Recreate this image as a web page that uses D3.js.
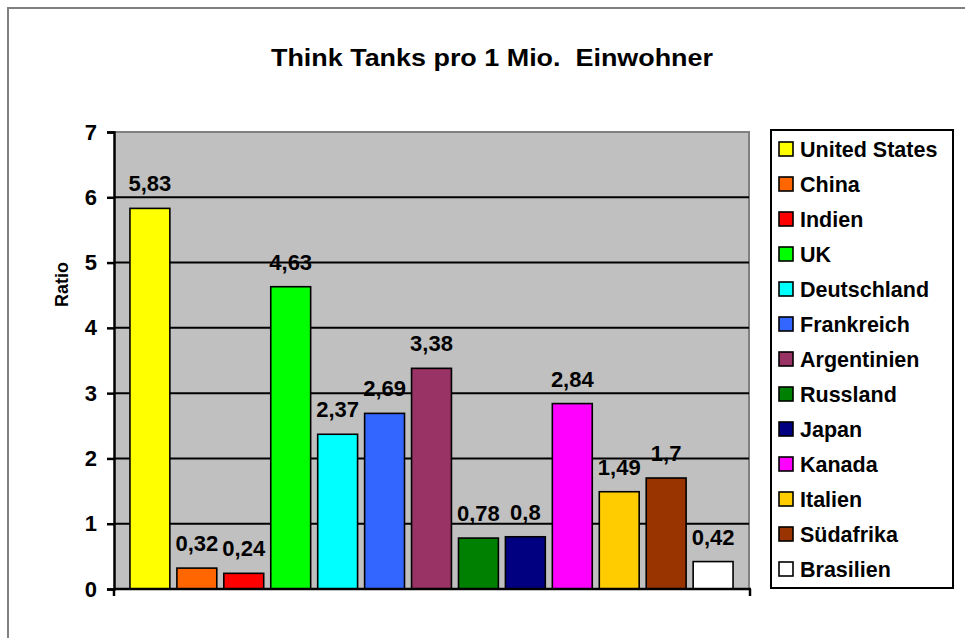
<!DOCTYPE html>
<html>
<head>
<meta charset="utf-8">
<script src="https://cdn.jsdelivr.net/npm/d3@7"></script>
<style>
  html, body { margin: 0; padding: 0; background: #fff; }
  svg { display: block; font-family: "Liberation Sans", Arial, Helvetica, sans-serif; font-weight: bold; }
</style>
</head>
<body>
<svg id="chart"></svg>
<script>
// data
const countries = ["United States", "China", "Indien", "UK", "Deutschland", "Frankreich",
  "Argentinien", "Russland", "Japan", "Kanada", "Italien", "Südafrika", "Brasilien"];
const ratios = [5.83, 0.32, 0.24, 4.63, 2.37, 2.69, 3.38, 0.78, 0.8, 2.84, 1.49, 1.7, 0.42];
const barColors = ["#FFFF00", "#FF6600", "#FF0000", "#00FF00", "#00FFFF", "#3366FF",
  "#993366", "#008000", "#000080", "#FF00FF", "#FFCC00", "#993300", "#FFFFFF"];
const yTicks = [0, 1, 2, 3, 4, 5, 6, 7];
const titleText = "Think Tanks pro 1 Mio.  Einwohner";
const yTitle = "Ratio";

const width = 965, height = 638;
const plot = { left: 114, right: 749, top: 132, bottom: 589 };

const svg = d3.select("#chart").attr("width", width).attr("height", height);

// outer chart frame (runs off the right/bottom edge)
svg.append("rect")
  .attr("x", 8).attr("y", 8)
  .attr("width", width + 10).attr("height", height + 10)
  .attr("fill", "#fff").attr("stroke", "#808080").attr("stroke-width", 2);

const x = d3.scaleBand().domain(countries)
  .range([plot.left, plot.right])
  .paddingInner(0.15).paddingOuter(0.34);
const y = d3.scaleLinear().domain([0, 7]).range([plot.bottom, plot.top]);
const color = d3.scaleOrdinal(countries, barColors);

// plot area
svg.append("rect")
  .attr("x", plot.left).attr("y", plot.top)
  .attr("width", plot.right - plot.left).attr("height", plot.bottom - plot.top)
  .attr("fill", "#C0C0C0");
svg.append("path")
  .attr("d", `M${plot.left},${plot.top}H${plot.right}V${plot.bottom}`)
  .attr("fill", "none").attr("stroke", "#808080").attr("stroke-width", 2);

// gridlines
svg.append("g").selectAll("line")
  .data(yTicks.filter(d => d > 0 && d < 7))
  .enter().append("line")
  .attr("x1", plot.left).attr("x2", plot.right)
  .attr("y1", d => y(d)).attr("y2", d => y(d))
  .attr("stroke", "#000").attr("stroke-width", 2);

// bars
svg.append("g").selectAll("rect")
  .data(countries)
  .enter().append("rect")
  .attr("x", d => x(d))
  .attr("y", (d, i) => y(ratios[i]))
  .attr("width", x.bandwidth())
  .attr("height", (d, i) => y(0) - y(ratios[i]))
  .attr("fill", d => color(d))
  .attr("stroke", "#000").attr("stroke-width", 1.6);

// value labels
svg.append("g").selectAll("text")
  .data(countries)
  .enter().append("text")
  .attr("x", d => x(d) + x.bandwidth() / 2)
  .attr("y", (d, i) => y(ratios[i]) - 17)
  .attr("text-anchor", "middle")
  .attr("font-size", 22)
  .attr("fill", "#000")
  .text((d, i) => String(ratios[i]).replace(".", ","));

// y axis
const yAxis = d3.axisLeft(y).tickValues(yTicks).tickSize(7).tickPadding(10).tickFormat(d3.format("d"));
const gy = svg.append("g").attr("transform", `translate(${plot.left},0)`).call(yAxis);
gy.select(".domain").attr("stroke", "#000").attr("stroke-width", 2.5);
gy.selectAll(".tick line").attr("stroke", "#000").attr("stroke-width", 2.5);
gy.selectAll(".tick text").attr("font-size", 22).attr("font-weight", "bold").attr("fill", "#000")
  .attr("font-family", "Liberation Sans, Arial, sans-serif");

// x axis line with end ticks
svg.append("path")
  .attr("d", `M${plot.left},${plot.bottom}H${plot.right + 2}M${plot.left},${plot.bottom}v7M${plot.right + 1},${plot.bottom}v7`)
  .attr("fill", "none").attr("stroke", "#000").attr("stroke-width", 2.5);

// y title
svg.append("text")
  .attr("transform", `translate(68,${(plot.top + plot.bottom) / 2 - 76}) rotate(-90)`)
  .attr("text-anchor", "middle")
  .attr("font-size", 18)
  .text(yTitle);

// title
svg.append("text")
  .attr("x", 492).attr("y", 66)
  .attr("text-anchor", "middle")
  .attr("font-size", 24)
  .style("white-space", "pre")
  .attr("textLength", 442)
  .attr("lengthAdjust", "spacingAndGlyphs")
  .text(titleText);

// legend
const legend = svg.append("g");
legend.append("rect")
  .attr("x", 771).attr("y", 130)
  .attr("width", 182).attr("height", 458)
  .attr("fill", "#fff").attr("stroke", "#000").attr("stroke-width", 2);

const ly = d3.scalePoint().domain(countries).range([149, 569]);
const item = legend.selectAll("g.item")
  .data(countries)
  .enter().append("g").attr("class", "item")
  .attr("transform", d => `translate(779,${ly(d)})`);
item.append("rect")
  .attr("x", 0).attr("y", -7)
  .attr("width", 14).attr("height", 14)
  .attr("fill", d => color(d))
  .attr("stroke", "#000").attr("stroke-width", 1.6);
item.append("text")
  .attr("x", 21).attr("y", 7.5)
  .attr("font-size", 21.5)
  .text(d => d);
</script>
</body>
</html>
